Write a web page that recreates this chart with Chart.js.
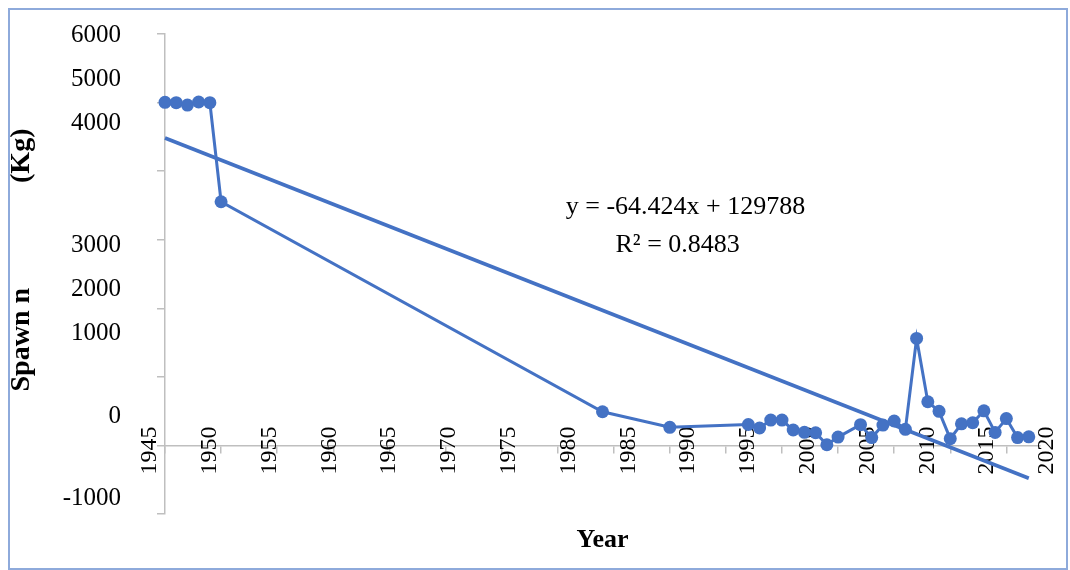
<!DOCTYPE html>
<html>
<head>
<meta charset="utf-8">
<script src="https://cdn.jsdelivr.net/npm/chart.js@4.4.0/dist/chart.umd.min.js"></script>
<style>
html,body{margin:0;padding:0;background:#fff;}
#wrap{position:relative;width:1070px;height:570px;overflow:hidden;}
#frame{position:absolute;left:8px;top:8px;width:1060px;height:562px;border:2px solid #8eaadb;box-sizing:border-box;pointer-events:none;}
</style>
</head>
<body>
<div id="wrap"><canvas id="c" width="1070" height="570"></canvas><div id="frame"></div></div>
<script>
// ---- data ----
const years = [1945,1946,1947,1948,1949,1950,1984,1990,1997,1998,1999,2000,2001,2002,2003,2004,2005,
               2007,2008,2009,2010,2011,2012,2013,2014,2015,2016,2017,2018,2019,2020,2021,2022];
const spawnKg = [5003,4998,4964,5008,4998,3554,491,264,305,254,370,370,225,191,185,10,122,
                 303,114,297,356,235,1560,637,497,99,315,331,505,190,392,114,125];
const xTickLabels = ['1945','1950','1955','1960','1965','1970','1975','1980','1985','1990','1995','2000','2005','2010','2015','2020'];
const yTickLabels = ['6000','5000','4000','3000','2000','1000','0','-1000'];
const trendSlope = -64.424;
const trendIntercept = 129788;
const trendEquation = 'y = -64.424x + 129788';
const trendR2 = 'R\u00B2 = 0.8483';
const xAxisTitle = 'Year';
const yAxisTitle = ' '.repeat(4) + 'Spawn n' + ' '.repeat(15) + '(Kg)';

// ---- layout / style settings ----
const BLUE = '#4472C4';
const AXIS_GRAY = '#bfbfbf';
const SERIF = "'Liberation Serif', 'Times New Roman', serif";
// where the (displaced) tick labels sit, in axis value units
const yLabelAnchors = [5985, 5336, 4702, 2923, 2281, 1632, 429, -774];
const xLabelAxisRange = {min: 1946.254, max: 2019.415};
const eqAnchor = {x: 1991.4, y: 3477};
const r2Anchor = {x: 1990.7, y: 2923};

const seriesPoints = years.map((yr, i) => ({x: yr, y: spawnKg[i]}));
const firstYear = years[0], lastYear = years[years.length - 1];
const trendPoints = [
  {x: firstYear, y: trendSlope * firstYear + trendIntercept},
  {x: lastYear, y: trendSlope * lastYear + trendIntercept}
];

const trendTextPlugin = {
  id: 'trendText',
  afterDatasetsDraw(chart) {
    const {ctx, scales} = chart;
    ctx.save();
    ctx.font = '26px ' + SERIF;
    ctx.fillStyle = '#000';
    ctx.textAlign = 'center';
    ctx.textBaseline = 'middle';
    ctx.fillText(trendEquation, scales.x.getPixelForValue(eqAnchor.x), scales.y.getPixelForValue(eqAnchor.y));
    ctx.fillText(trendR2, scales.x.getPixelForValue(r2Anchor.x), scales.y.getPixelForValue(r2Anchor.y));
    ctx.restore();
  }
};

function zeroPad(s) { s.paddingLeft = 0; s.paddingRight = 0; s.paddingTop = 0; s.paddingBottom = 0; }

new Chart(document.getElementById('c'), {
  type: 'line',
  data: {
    datasets: [
      {
        label: 'Spawn',
        data: seriesPoints,
        borderColor: BLUE,
        backgroundColor: BLUE,
        borderWidth: 3,
        pointRadius: 6.5,
        pointBackgroundColor: BLUE,
        pointBorderWidth: 0,
        tension: 0,
        clip: false,
        xAxisID: 'x',
        yAxisID: 'y'
      },
      {
        label: 'Linear trend',
        data: trendPoints,
        borderColor: BLUE,
        borderWidth: 3.75,
        pointRadius: 0,
        tension: 0,
        clip: false,
        xAxisID: 'x',
        yAxisID: 'y'
      }
    ]
  },
  options: {
    responsive: false,
    animation: false,
    devicePixelRatio: 1,
    layout: {padding: {top: 34, right: 30, bottom: 0, left: 0}},
    plugins: {legend: {display: false}, tooltip: {enabled: false}},
    scales: {
      x: {
        type: 'linear',
        position: 'bottom',
        min: 1945, max: 2023,
        ticks: {display: false},
        grid: {display: false, drawTicks: false},
        border: {display: false},
        title: {
          display: true, text: xAxisTitle, color: '#000',
          font: {family: SERIF, size: 26, weight: 'bold'},
          padding: {top: 0, bottom: 14}
        },
        afterFit(s) { s.height = 56; zeroPad(s); }
      },
      xLine: {
        type: 'linear',
        axis: 'x',
        position: {y: 0},
        min: 1945, max: 2023,
        ticks: {display: false, stepSize: 5, includeBounds: false},
        grid: {drawOnChartArea: false, tickLength: 7, color: AXIS_GRAY, lineWidth: 1.5},
        border: {display: true, color: AXIS_GRAY, width: 1.5},
        afterFit(s) { zeroPad(s); }
      },
      xLabels: {
        type: 'linear',
        axis: 'x',
        position: {y: 0},
        min: xLabelAxisRange.min, max: xLabelAxisRange.max,
        afterBuildTicks(s) { s.ticks = xTickLabels.map(t => ({value: Number(t)})); },
        ticks: {
          autoSkip: false, minRotation: 90, maxRotation: 90, padding: -19,
          color: '#000', font: {family: SERIF, size: 24},
          callback: (v, i) => xTickLabels[i]
        },
        grid: {display: false, drawTicks: false},
        border: {display: false},
        afterFit(s) { zeroPad(s); }
      },
      y: {
        type: 'linear',
        position: 'left',
        weight: 0,
        min: -1000, max: 6000,
        ticks: {display: false, stepSize: 1000},
        grid: {drawOnChartArea: false, tickLength: 8, color: AXIS_GRAY, lineWidth: 1.5},
        border: {display: true, color: AXIS_GRAY, width: 1.5},
        afterFit(s) { s.width = 8; zeroPad(s); }
      },
      yLabels: {
        type: 'linear',
        axis: 'y',
        position: 'left',
        weight: 10,
        min: -1000, max: 6000,
        afterBuildTicks(s) { s.ticks = yLabelAnchors.map(v => ({value: v})); },
        ticks: {
          autoSkip: false, padding: 36, color: '#000',
          font: {family: SERIF, size: 25},
          callback: (v, i) => yTickLabels[i]
        },
        grid: {display: false, drawTicks: false},
        border: {display: false},
        title: {
          display: true, text: yAxisTitle, color: '#000',
          font: {family: SERIF, size: 28, weight: 'bold'},
          padding: {top: 5, bottom: 0}
        },
        afterFit(s) { s.width = 157; zeroPad(s); }
      }
    }
  },
  plugins: [trendTextPlugin]
});
</script>
</body>
</html>
